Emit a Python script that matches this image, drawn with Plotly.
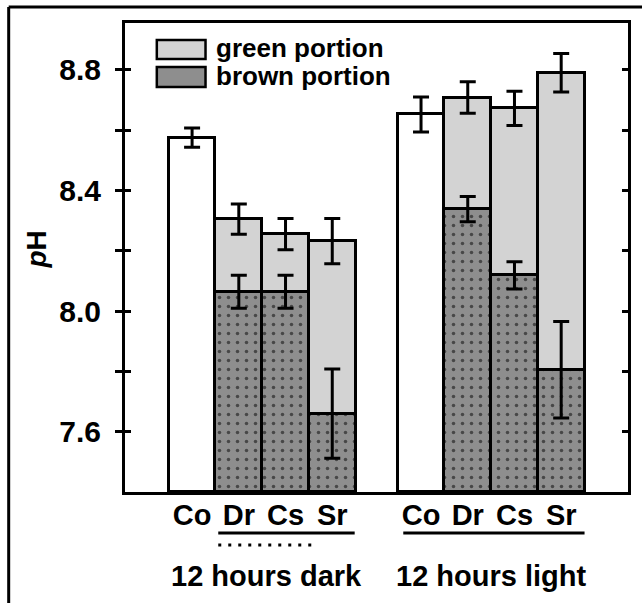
import plotly.graph_objects as go

# Treatment groups and bar positions (bar width = 1 unit)
groups = ["12 hours dark", "12 hours light"]
labels = ["Co", "Dr", "Cs", "Sr", "Co", "Dr", "Cs", "Sr"]
xpos = [0, 1, 2, 3, 4.9, 5.9, 6.9, 7.9]

# Whole-leaf pH (control) / green portion pH, with errors
total_ph = [8.575, 8.305, 8.255, 8.232, 8.652, 8.708, 8.672, 8.790]
total_err = [0.032, 0.050, 0.052, 0.075, 0.058, 0.052, 0.057, 0.064]

# Brown portion pH (treated bars only)
brown_x = [1, 2, 3, 5.9, 6.9, 7.9]
brown_ph = [8.064, 8.064, 7.660, 8.338, 8.118, 7.805]
brown_err = [0.055, 0.055, 0.148, 0.042, 0.045, 0.160]

y_min, y_max = 7.4, 8.955
FONT = "Liberation Sans, Arial, sans-serif"
LIGHT = "#d3d3d3"
DARK = "#8e8e8e"

total_colors = ["white" if lab == "Co" else LIGHT for lab in labels]

fig = go.Figure()

fig.add_trace(go.Bar(
    x=xpos, y=[v - y_min for v in total_ph], base=y_min, width=1,
    marker=dict(color=total_colors, line=dict(color="black", width=3)),
    error_y=dict(type="data", array=total_err, color="black", thickness=3, width=8),
    showlegend=False, hoverinfo="skip",
))

fig.add_trace(go.Bar(
    x=brown_x, y=[v - y_min for v in brown_ph], base=y_min, width=1,
    marker=dict(color=DARK, line=dict(color="black", width=3),
                pattern=dict(shape=".", fgcolor="black", bgcolor=DARK,
                             size=9, solidity=0.12)),
    error_y=dict(type="data", array=brown_err, color="black", thickness=3, width=8),
    showlegend=False, hoverinfo="skip",
))

# Pixel-based helpers for the paper coordinate system
L, R, T, B = 125, 631, 23, 492
W, H = 642, 603
def px(x):
    return (x - L) / (R - L)
def py(y):
    return (B - y) / (B - T)

shapes = []
annotations = []

# Legend
legend_items = [("green portion", LIGHT, 40, 59), ("brown portion", DARK, 67, 87)]
for text, col, y0, y1 in legend_items:
    shapes.append(dict(type="rect", xref="paper", yref="paper",
                       x0=px(157), x1=px(206), y0=py(y1), y1=py(y0),
                       fillcolor=col, line=dict(color="black", width=2.5)))
    annotations.append(dict(text=text, xref="paper", yref="paper",
                            x=px(215), y=py((y0 + y1) / 2 - 1),
                            xanchor="left", yanchor="middle", showarrow=False,
                            font=dict(family=FONT, size=26, color="black", weight="bold")))

# Group underlines
shapes.append(dict(type="line", xref="x", yref="paper", x0=0.56, x1=3.48,
                   y0=py(533), y1=py(533), line=dict(color="black", width=3)))
shapes.append(dict(type="line", xref="x", yref="paper", x0=0.56, x1=2.56,
                   y0=py(545), y1=py(545),
                   line=dict(color="black", width=3, dash="3px,7px")))
shapes.append(dict(type="line", xref="x", yref="paper", x0=4.52, x1=8.4,
                   y0=py(533), y1=py(533), line=dict(color="black", width=3)))

# Group labels
for g, xc in zip(groups, [1.6, 6.4]):
    annotations.append(dict(text=g, xref="x", yref="paper", x=xc, y=py(576),
                            xanchor="center", yanchor="middle", showarrow=False,
                            font=dict(family=FONT, size=29, color="black", weight="bold")))

# Y axis title
annotations.append(dict(text="<i>p</i>H", xref="paper", yref="paper",
                        x=px(35), y=py(250), textangle=-90,
                        xanchor="center", yanchor="middle", showarrow=False,
                        font=dict(family=FONT, size=28, color="black", weight="bold")))

# Outer frame (left and top edges)
shapes.append(dict(type="line", xref="paper", yref="paper",
                   x0=px(8), x1=px(8), y0=py(7), y1=py(610),
                   line=dict(color="black", width=3)))
shapes.append(dict(type="line", xref="paper", yref="paper",
                   x0=px(8), x1=px(650), y0=py(7), y1=py(7),
                   line=dict(color="black", width=3)))

fig.update_layout(
    width=W, height=H,
    margin=dict(l=L, r=W - R, t=T, b=H - B),
    paper_bgcolor="white", plot_bgcolor="white",
    barmode="overlay", bargap=0,
    shapes=shapes, annotations=annotations,
    font=dict(family=FONT, color="black"),
    xaxis=dict(range=[-1.436, 9.33], tickvals=xpos, ticktext=labels,
               ticks="", showline=True, linecolor="black", linewidth=3,
               mirror=True, showgrid=False, zeroline=False, ticklabelstandoff=-5,
               tickfont=dict(family=FONT, size=29, color="black", weight="bold")),
    yaxis=dict(range=[y_min, y_max], tickvals=[7.6, 8.0, 8.4, 8.8],
               ticktext=["7.6", "8.0", "8.4", "8.8"],
               ticks="outside", ticklen=7, tickwidth=2.5, tickcolor="black",
               minor=dict(tickvals=[7.8, 8.2, 8.6], ticks="outside", ticklen=7,
                          tickwidth=2.5, tickcolor="black"),
               showline=True, linecolor="black", linewidth=3,
               showgrid=False, zeroline=False, ticklabelstandoff=8,
               tickfont=dict(family=FONT, size=30, color="black", weight="bold")),
    yaxis2=dict(range=[y_min, y_max], overlaying="y", side="left",
                tickvals=[7.6, 8.0, 8.4, 8.8], showticklabels=False,
                ticks="inside", ticklen=6, tickwidth=2.5, tickcolor="black",
                minor=dict(tickvals=[7.8, 8.2, 8.6], ticks="inside", ticklen=6,
                           tickwidth=2.5, tickcolor="black"),
                showline=True, linecolor="black", linewidth=3, mirror="ticks",
                showgrid=False, zeroline=False),
)

# Invisible trace so the secondary y axis (inside ticks) is drawn
fig.add_trace(go.Scatter(x=[-1.0], y=[8.0], yaxis="y2", mode="markers",
                         marker=dict(opacity=0), showlegend=False, hoverinfo="skip"))

fig.write_html("out.html")
